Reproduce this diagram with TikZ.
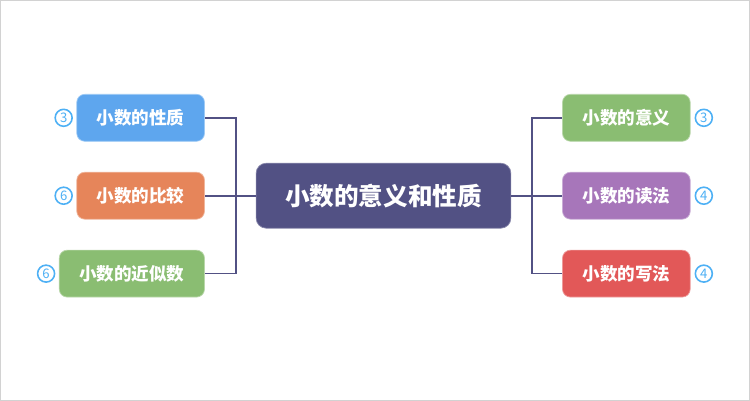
\documentclass[tikz,border=0pt]{standalone}
\usepackage{fontspec}
\setmainfont{Noto Sans CJK SC}
\usetikzlibrary{positioning}
\definecolor{zhuse}{RGB}{82,81,132}
\definecolor{lanse}{RGB}{94,166,238}
\definecolor{chengse}{RGB}{230,133,90}
\definecolor{lvse}{RGB}{138,189,114}
\definecolor{zise}{RGB}{167,118,186}
\definecolor{hongse}{RGB}{226,88,88}
\definecolor{quanse}{RGB}{77,176,245}
\tikzset{
  mm/root/.style={rectangle, rounded corners=0.2cm, fill=zhuse, draw=zhuse!70!white,
    line width=0.4pt, minimum height=1.3cm, minimum width=5.1cm, inner xsep=0.5cm,
    font=\fontsize{14}{17}\selectfont\bfseries\color{white}},
  mm/leaf/.style={rectangle, rounded corners=0.16cm, fill=#1, draw=#1!60!white,
    line width=0.4pt, minimum height=0.94cm, inner xsep=0.4cm,
    font=\fontsize{10}{12}\selectfont\bfseries\color{white}},
  mm/num/.style={circle, draw=quanse, line width=0.9pt, fill=white,
    minimum size=0.34cm, inner sep=0pt,
    font=\fontsize{7.5}{8}\selectfont\color{quanse}},
  mm/link/.style={draw=zhuse, line width=1pt}
}
\begin{document}
\begin{tikzpicture}
  \draw[gray!35, line width=0.5pt, fill=white] (0,0) rectangle (15,8);
  \node[mm/root] (main) at (7.67,4.09) {小数的意义和性质};

  % left side
  \node[mm/leaf=lanse, left=1.02cm of main, yshift=1.56cm] (xingzhi) {小数的性质};
  \node[mm/leaf=chengse, left=1.02cm of main] (bijiao) {小数的比较};
  \node[mm/leaf=lvse, left=1.02cm of main, yshift=-1.56cm] (jinsi) {小数的近似数};
  \node[mm/num, left=0.07cm of xingzhi] (n1) {3};
  \node[mm/num, left=0.07cm of bijiao] (n2) {6};
  \node[mm/num, left=0.07cm of jinsi] (n3) {6};

  % right side
  \node[mm/leaf=lvse, right=1.02cm of main, yshift=1.56cm] (yiyi) {小数的意义};
  \node[mm/leaf=zise, right=1.02cm of main] (dufa) {小数的读法};
  \node[mm/leaf=hongse, right=1.02cm of main, yshift=-1.56cm] (xiefa) {小数的写法};
  \node[mm/num, right=0.08cm of yiyi] (n4) {3};
  \node[mm/num, right=0.08cm of dufa] (n5) {4};
  \node[mm/num, right=0.08cm of xiefa] (n6) {4};

  % connectors
  \coordinate (lj) at ([xshift=-0.4cm]main.west);
  \coordinate (rj) at ([xshift=0.42cm]main.east);
  \draw[mm/link] (main.west) -- (lj);
  \draw[mm/link] (lj) |- (xingzhi.east);
  \draw[mm/link] (lj) -- (bijiao.east);
  \draw[mm/link] (lj) |- (jinsi.east);
  \draw[mm/link] (main.east) -- (rj);
  \draw[mm/link] (rj) |- (yiyi.west);
  \draw[mm/link] (rj) -- (dufa.west);
  \draw[mm/link] (rj) |- (xiefa.west);
\end{tikzpicture}
\end{document}
